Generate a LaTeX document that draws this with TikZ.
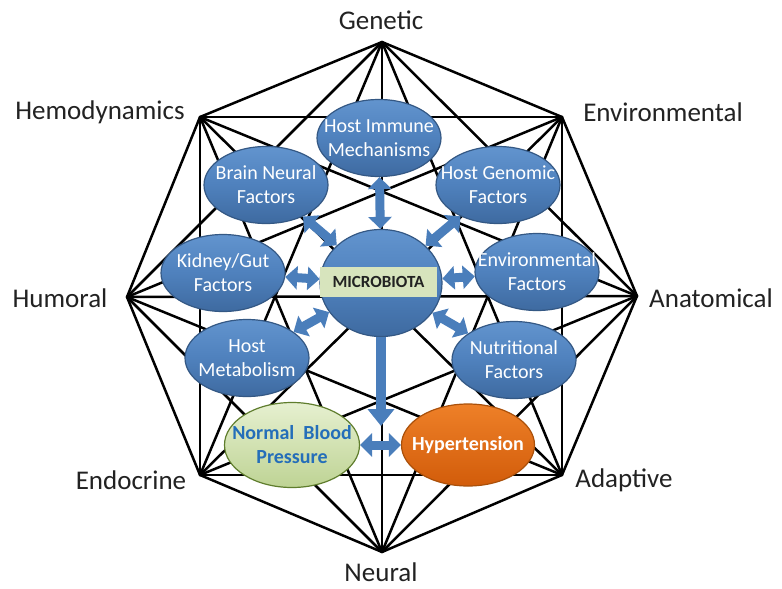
\documentclass[tikz,border=0pt]{standalone}
\usepackage{fontspec}
\setmainfont{Carlito}
\usetikzlibrary{shapes.geometric,arrows.meta}
\definecolor{elltop}{RGB}{98,148,206}
\definecolor{ellmid}{RGB}{79,129,189}
\definecolor{ellbot}{RGB}{62,106,160}
\definecolor{elldraw}{RGB}{52,88,132}
\definecolor{arrowblue}{RGB}{74,126,187}
\definecolor{labelgreen}{RGB}{215,228,189}
\definecolor{nbptop}{RGB}{230,240,208}
\definecolor{nbpbot}{RGB}{190,211,148}
\definecolor{nbpdraw}{RGB}{95,125,45}
\definecolor{nbptext}{RGB}{36,110,185}
\definecolor{hyptop}{RGB}{238,128,40}
\definecolor{hypbot}{RGB}{210,92,10}
\definecolor{hypdraw}{RGB}{170,80,10}
\definecolor{labeltext}{RGB}{34,34,34}
\begin{document}
\begin{tikzpicture}[x=1pt,y=-1pt]
\tikzset{
  edge/.style={line width=2.5pt, black, line cap=round},
  vlabel/.style={font=\fontsize{27}{31}\selectfont, text=labeltext, inner sep=0pt},
  oval/.style={ellipse, line width=1.2pt, inner xsep=-20pt, inner ysep=0pt, align=center},
  factor/.style={oval, draw=elldraw, top color=elltop, bottom color=ellbot, middle color=ellmid,
     minimum width=124pt, minimum height=77pt, text=white,
     font=\fontsize{20}{24}\selectfont},
  dblarrow/.style={line width=9pt, arrowblue,
     {Triangle[length=12pt,width=23pt]}-{Triangle[length=12pt,width=23pt]}},
  sglarrow/.style={line width=10pt, arrowblue, -{Triangle[length=17pt,width=26pt]}}
}
\useasboundingbox[fill=white] (0,0) rectangle (782,589);
% vertices of the mosaic
\coordinate (v1) at (382,42);
\coordinate (v2) at (562,117);
\coordinate (v3) at (637,296);
\coordinate (v4) at (562,475);
\coordinate (v5) at (382,552);
\coordinate (v6) at (200,475);
\coordinate (v7) at (127,297);
\coordinate (v8) at (200,117);
\foreach \i in {1,...,7}{
  \pgfmathtruncatemacro\s{\i+1}
  \foreach \j in {\s,...,8}{ \draw[edge] (v\i) -- (v\j); }
}
% vertex labels
\node[vlabel] (lgen) at (381,20) {Genetic};
\node[vlabel] (lenv) at (663,112) {Environmental};
\node[vlabel] (lana) at (711,298) {Anatomical};
\node[vlabel] (lada) at (624,480) {Adaptive};
\node[vlabel] (lneu) at (381,572) {Neural};
\node[vlabel] (lend) at (131,480) {Endocrine};
\node[vlabel] (lhum) at (60,298) {Humoral};
\node[vlabel] (lhem) at (100,112) {Hemodynamics};
% factor ellipses
\node[factor] (immune) at (379,138) {Host Immune\\Mechanisms};
\node[factor] (brain) at (266,185) {Brain Neural\\Factors};
\node[factor] (genomic) at (498,185) {Host Genomic\\Factors};
\node[factor] (kidney) at (223,273) {Kidney/Gut\\Factors};
\node[factor] (envf) at (537,272) {Environmental\\Factors};
\node[factor] (metab) at (247,358) {Host\\Metabolism};
\node[factor] (nutri) at (514,360) {Nutritional\\Factors};
\node[factor, minimum width=122pt, minimum height=107pt] (micro) at (381,283) {};
\node[fill=labelgreen, minimum width=117pt, minimum height=30pt, inner sep=0pt,
      font=\bfseries\fontsize{17}{20}\selectfont, text=labeltext] (microlbl) at (378.5,282) {MICROBIOTA};
\node[oval, draw=nbpdraw, top color=nbptop, bottom color=nbpbot,
      minimum width=135pt, minimum height=85pt, text=nbptext,
      font=\bfseries\fontsize{20}{24}\selectfont] (nbp) at (292,445) {Normal~ Blood\\Pressure};
\node[oval, draw=hypdraw, top color=hyptop, bottom color=hypbot,
      minimum width=133pt, minimum height=82pt, text=white,
      font=\bfseries\fontsize{20}{24}\selectfont] (hyp) at (468,445) {Hypertension};
% arrows
\coordinate (downend) at (381,426);
\draw[dblarrow] (immune) -- (micro);
\draw[dblarrow] (brain) -- (micro);
\draw[dblarrow] (genomic) -- (micro);
\draw[dblarrow] (kidney) -- (micro);
\draw[dblarrow] (envf) -- (micro);
\draw[dblarrow] (metab) -- (micro);
\draw[dblarrow] (nutri) -- (micro);
\draw[sglarrow] (micro) -- (downend);
\draw[dblarrow] (nbp) -- (hyp);
\end{tikzpicture}
\end{document}
